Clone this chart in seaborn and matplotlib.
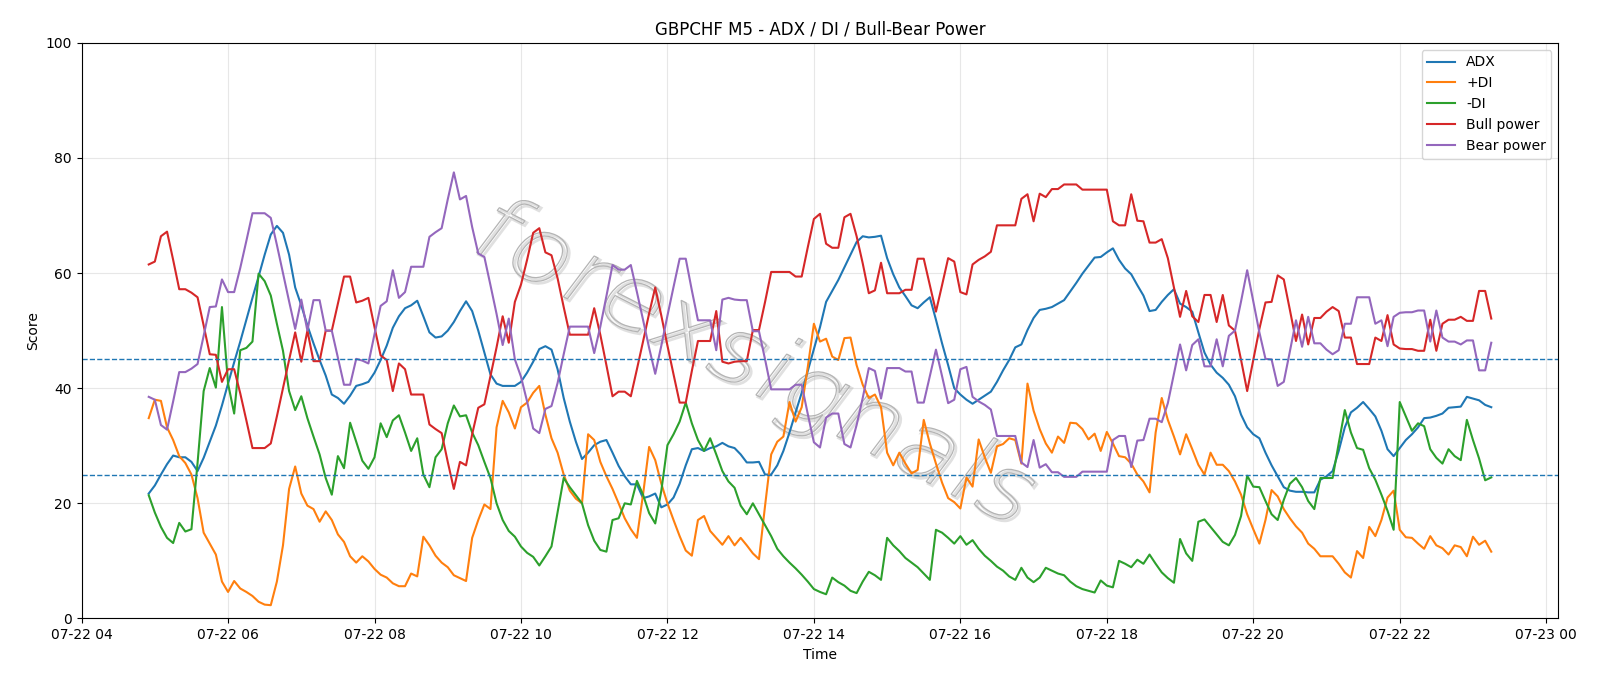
import matplotlib
matplotlib.use("Agg")
import matplotlib.pyplot as plt
import matplotlib.transforms as mtransforms
from matplotlib.textpath import TextPath
from matplotlib.patches import PathPatch
from matplotlib.font_manager import FontProperties
import pandas as pd
import seaborn as sns

# 5-minute bars, 07-22 04:55 -> 23:15
start, end = "2024-07-22 04:55", "2024-07-22 23:15"

adx = [21.7, 23.1, 25.0, 26.8, 28.3, 28.0, 28.0, 27.2, 25.6, 27.9, 30.7, 33.5, 37.0, 40.8, 44.5, 48.1, 51.9, 55.7, 59.4, 63.2,
       66.7, 68.2, 67.0, 63.2, 57.5, 54.4, 50.9, 47.8, 44.9, 42.2, 38.9, 38.3, 37.3, 38.7, 40.4, 40.7, 41.1, 42.7, 44.9, 47.4,
       50.5, 52.5, 53.9, 54.4, 55.2, 52.5, 49.7, 48.8, 49.0, 50.0, 51.5, 53.4, 55.1, 53.4, 50.0, 46.2, 42.4, 40.8, 40.4, 40.4,
       40.4, 41.1, 42.7, 44.6, 46.8, 47.3, 46.7, 43.3, 38.3, 34.2, 30.7, 27.7, 28.8, 30.1, 30.7, 31.0, 28.8, 26.5, 24.7, 23.3,
       23.3, 20.9, 21.2, 21.7, 19.3, 19.8, 21.0, 23.4, 26.6, 29.4, 29.6, 29.1, 29.6, 29.9, 30.5, 29.9, 29.6, 28.5, 27.1, 27.1,
       27.2, 25.0, 25.0, 26.6, 29.1, 32.3, 35.8, 39.2, 43.0, 46.8, 50.6, 55.0, 56.9, 58.8, 61.0, 63.2, 65.4, 66.4, 66.2, 66.3,
       66.5, 62.6, 59.8, 57.5, 56.0, 54.4, 53.9, 54.9, 55.8, 51.9, 47.8, 44.0, 40.0, 38.9, 38.0, 37.3, 38.0, 38.7, 39.4, 41.1,
       43.1, 44.9, 47.1, 47.6, 50.1, 52.2, 53.6, 53.8, 54.1, 54.7, 55.3, 56.8, 58.3, 59.9, 61.3, 62.7, 62.8, 63.6, 64.3, 62.3,
       60.8, 59.8, 57.9, 56.1, 53.4, 53.6, 55.0, 56.2, 57.2, 54.7, 54.1, 53.3, 49.7, 46.2, 44.1, 42.7, 41.8, 40.6, 38.6, 35.4,
       33.2, 32.0, 31.3, 28.8, 26.6, 24.7, 22.8, 22.2, 22.0, 22.0, 21.9, 21.9, 24.1, 24.7, 25.6, 29.1, 33.2, 35.8, 36.6, 37.6,
       36.4, 35.1, 32.6, 29.4, 28.2, 29.6, 31.0, 32.0, 33.2, 34.8, 34.9, 35.2, 35.6, 36.6, 36.7, 36.8, 38.5, 38.2, 37.9, 37.1,
       36.7]

plus_di = [34.8, 38.0, 37.8, 33.2, 31.0, 28.2, 27.0, 25.0, 20.9, 14.9, 13.0, 11.1, 6.4, 4.6, 6.5, 5.2, 4.6, 3.9, 2.9, 2.4,
           2.3, 6.4, 12.7, 22.5, 26.4, 21.7, 19.6, 19.0, 16.8, 18.6, 17.1, 14.6, 13.3, 10.8, 9.7, 10.8, 9.9, 8.6, 7.6, 7.1,
           6.1, 5.6, 5.6, 7.8, 7.3, 14.2, 12.7, 10.9, 9.7, 8.9, 7.5, 7.0, 6.5, 14.0, 17.1, 19.8, 19.0, 33.2, 37.8, 35.8,
           33.0, 36.7, 37.5, 39.2, 40.4, 35.4, 31.3, 28.8, 25.0, 22.2, 20.8, 20.0, 32.0, 31.0, 27.2, 24.7, 22.5, 20.0, 17.4, 15.5,
           14.0, 21.5, 29.8, 27.5, 23.4, 20.0, 17.1, 14.3, 11.8, 10.9, 17.1, 17.8, 15.2, 14.0, 12.8, 14.3, 12.7, 14.0, 12.7, 11.3,
           10.3, 19.6, 28.5, 30.7, 31.6, 37.6, 34.2, 36.7, 43.7, 51.2, 48.1, 48.6, 45.5, 44.9, 48.7, 48.8, 44.0, 40.6, 38.3, 38.9,
           36.7, 28.8, 26.6, 28.8, 26.9, 25.2, 25.8, 34.5, 30.4, 26.9, 23.6, 20.9, 20.2, 19.1, 24.5, 22.9, 31.1, 28.0, 25.3, 29.9,
           30.3, 31.3, 31.0, 26.9, 40.8, 36.1, 32.9, 30.4, 28.8, 31.6, 30.5, 34.0, 33.9, 32.9, 31.1, 32.1, 29.1, 32.4, 30.4, 28.2,
           28.0, 26.9, 25.0, 23.8, 21.9, 32.3, 38.3, 34.5, 31.6, 28.5, 32.0, 29.4, 26.7, 25.0, 28.8, 26.7, 26.7, 25.6, 23.8, 21.5,
           18.1, 15.5, 13.0, 17.1, 22.3, 21.2, 19.0, 17.4, 16.0, 14.9, 13.0, 12.1, 10.8, 10.8, 10.8, 9.5, 8.0, 7.1, 11.7, 10.5,
           15.9, 14.3, 17.1, 21.0, 22.2, 15.4, 14.1, 14.0, 13.0, 12.1, 14.3, 12.7, 12.2, 11.1, 12.7, 12.4, 10.8, 14.2, 12.8, 13.5,
           11.6]

minus_di = [21.4, 18.4, 15.9, 14.0, 13.1, 16.6, 15.1, 15.5, 27.0, 39.5, 43.5, 40.1, 54.1, 40.8, 35.6, 46.6, 47.0, 48.1, 59.9, 58.6,
            56.1, 51.2, 46.5, 39.5, 36.2, 38.6, 34.8, 31.6, 28.5, 24.4, 21.5, 28.2, 26.1, 34.0, 30.7, 27.4, 26.0, 28.0, 33.9, 31.5,
            34.4, 35.3, 32.3, 29.1, 31.3, 25.0, 22.8, 28.0, 29.4, 33.9, 37.0, 35.1, 35.3, 32.3, 30.1, 27.2, 24.4, 20.0, 17.1, 15.2,
            14.2, 12.5, 11.4, 10.7, 9.2, 10.8, 12.5, 18.4, 24.4, 22.8, 21.4, 20.0, 16.2, 13.5, 11.9, 11.6, 17.1, 17.4, 20.0, 19.8,
            23.9, 21.5, 18.3, 16.5, 22.2, 30.1, 32.0, 34.2, 37.5, 33.9, 31.0, 29.1, 31.3, 28.5, 25.6, 23.8, 22.7, 19.6, 18.1, 20.0,
            18.1, 16.2, 14.3, 12.1, 10.8, 9.7, 8.7, 7.6, 6.4, 5.1, 4.6, 4.2, 7.1, 6.3, 5.7, 4.8, 4.4, 6.4, 8.1, 7.5,
            6.7, 14.0, 12.7, 11.7, 10.5, 9.7, 8.9, 7.8, 6.7, 15.4, 14.9, 14.0, 13.0, 14.3, 12.8, 13.6, 12.1, 10.9, 10.0, 9.0,
            8.3, 7.3, 6.7, 8.8, 7.1, 6.3, 7.1, 8.8, 8.3, 7.8, 7.5, 6.4, 5.6, 5.1, 4.8, 4.5, 6.6, 5.7, 5.4, 10.0,
            9.5, 8.9, 10.2, 9.5, 11.1, 9.5, 8.0, 7.0, 6.2, 13.8, 11.3, 10.0, 16.8, 17.2, 15.9, 14.6, 13.3, 12.7, 14.5, 17.8,
            24.8, 22.9, 22.8, 20.4, 18.1, 17.1, 20.6, 23.4, 24.4, 22.8, 20.4, 19.0, 24.4, 24.4, 24.4, 30.4, 36.2, 32.3, 29.6, 29.3,
            26.1, 24.1, 21.5, 18.7, 15.4, 37.6, 35.1, 32.6, 33.9, 33.4, 29.4, 27.9, 26.9, 29.4, 28.2, 27.5, 34.5, 31.0, 27.8, 24.0,
            24.5]

bull = [61.5, 62.0, 66.4, 67.2, 62.3, 57.2, 57.2, 56.6, 55.8, 50.9, 45.9, 45.8, 41.1, 43.3, 43.3, 39.1, 34.4, 29.6, 29.6, 29.6,
        30.4, 35.1, 40.0, 44.9, 49.7, 44.6, 50.0, 44.7, 44.7, 50.0, 50.0, 54.7, 59.4, 59.4, 54.9, 55.2, 55.7, 50.6, 45.7, 44.9,
        39.5, 44.3, 43.3, 38.9, 38.9, 38.9, 33.7, 32.9, 32.2, 27.2, 22.5, 27.2, 26.6, 32.0, 36.6, 37.2, 42.1, 47.1, 52.5, 47.9,
        55.0, 58.0, 62.3, 67.0, 67.8, 63.6, 63.1, 59.1, 54.1, 49.3, 49.3, 49.3, 49.3, 53.9, 49.3, 44.0, 38.6, 39.4, 39.4, 38.6,
        43.3, 48.1, 53.0, 57.5, 52.6, 47.4, 42.4, 37.5, 37.5, 43.0, 48.2, 48.2, 48.2, 53.4, 44.6, 44.3, 44.6, 44.7, 44.7, 50.1,
        50.1, 55.0, 60.2, 60.2, 60.2, 60.2, 59.4, 59.4, 64.5, 69.4, 70.3, 65.1, 64.4, 64.4, 69.7, 70.3, 66.4, 61.7, 56.5, 57.0,
        61.8, 56.5, 56.5, 56.5, 57.1, 57.1, 62.5, 62.5, 57.9, 53.3, 57.9, 62.6, 62.0, 56.7, 56.3, 61.5, 62.3, 62.9, 63.7, 68.3,
        68.3, 68.3, 68.3, 72.9, 73.7, 69.0, 73.8, 73.2, 74.6, 74.6, 75.4, 75.4, 75.4, 74.5, 74.5, 74.5, 74.5, 74.5, 69.0, 68.3,
        68.3, 73.7, 69.1, 69.0, 65.3, 65.3, 65.9, 62.6, 57.5, 52.4, 56.9, 52.5, 51.5, 56.2, 56.2, 51.5, 56.2, 50.9, 50.0, 44.9,
        39.5, 44.9, 50.3, 54.9, 55.0, 59.6, 58.9, 53.6, 48.2, 52.8, 47.6, 52.2, 52.2, 53.3, 54.1, 53.4, 48.8, 48.8, 44.2, 44.2,
        44.2, 48.8, 48.2, 52.7, 47.6, 46.9, 46.8, 46.8, 46.5, 46.5, 51.9, 46.5, 51.2, 51.9, 51.9, 52.4, 51.7, 51.7, 56.9, 56.9,
        52.1]

bear = [38.5, 38.0, 33.6, 32.8, 37.7, 42.8, 42.8, 43.4, 44.2, 49.1, 54.1, 54.2, 58.9, 56.7, 56.7, 60.9, 65.6, 70.4, 70.4, 70.4,
        69.6, 64.9, 60.0, 55.1, 50.3, 55.4, 50.0, 55.3, 55.3, 50.0, 50.0, 45.3, 40.6, 40.6, 45.1, 44.8, 44.3, 49.4, 54.3, 55.1,
        60.5, 55.7, 56.7, 61.1, 61.1, 61.1, 66.3, 67.1, 67.8, 72.8, 77.5, 72.8, 73.4, 68.0, 63.4, 62.8, 57.9, 52.9, 47.5, 52.1,
        45.0, 42.0, 37.7, 33.0, 32.2, 36.4, 36.9, 40.9, 45.9, 50.7, 50.7, 50.7, 50.7, 46.1, 50.7, 56.0, 61.4, 60.6, 60.6, 61.4,
        56.7, 51.9, 47.0, 42.5, 47.4, 52.6, 57.6, 62.5, 62.5, 57.0, 51.8, 51.8, 51.8, 46.6, 55.4, 55.7, 55.4, 55.3, 55.3, 49.9,
        49.9, 45.0, 39.8, 39.8, 39.8, 39.8, 40.6, 40.6, 35.5, 30.6, 29.7, 34.9, 35.6, 35.6, 30.3, 29.7, 33.6, 38.3, 43.5, 43.0,
        38.2, 43.5, 43.5, 43.5, 42.9, 42.9, 37.5, 37.5, 42.1, 46.7, 42.1, 37.4, 38.0, 43.3, 43.7, 38.5, 37.7, 37.1, 36.3, 31.7,
        31.7, 31.7, 31.7, 27.1, 26.3, 31.0, 26.2, 26.8, 25.4, 25.4, 24.6, 24.6, 24.6, 25.5, 25.5, 25.5, 25.5, 25.5, 31.0, 31.7,
        31.7, 26.3, 30.9, 31.0, 34.7, 34.7, 34.1, 37.4, 42.5, 47.6, 43.1, 47.5, 48.5, 43.8, 43.8, 48.5, 43.8, 49.1, 50.0, 55.1,
        60.5, 55.1, 49.7, 45.1, 45.0, 40.4, 41.1, 46.4, 51.8, 47.2, 52.4, 47.8, 47.8, 46.7, 45.9, 46.6, 51.2, 51.2, 55.8, 55.8,
        55.8, 51.2, 51.8, 47.3, 52.4, 53.1, 53.2, 53.2, 53.5, 53.5, 48.1, 53.5, 48.8, 48.1, 48.1, 47.6, 48.3, 48.3, 43.1, 43.1,
        47.9]

times = pd.date_range(start, end, freq="5min")
df = pd.DataFrame({"Time": times, "ADX": adx, "+DI": plus_di, "-DI": minus_di,
                   "Bull power": bull, "Bear power": bear})

fig = plt.figure(figsize=(16, 6.86), dpi=100)
ax = fig.add_axes([0.051, 0.0985, 0.923, 0.839])

palette = ["tab:blue", "tab:orange", "tab:green", "tab:red", "tab:purple"]
for col, c in zip(["ADX", "+DI", "-DI", "Bull power", "Bear power"], palette):
    sns.lineplot(data=df, x="Time", y=col, ax=ax, color=c, label=col, linewidth=1.5)

# ADX thresholds
ax.axhline(45, linestyle="--", color="tab:blue", linewidth=1)
ax.axhline(25, linestyle="--", color="tab:blue", linewidth=1)

ax.set_ylim(0, 100)
ax.grid(True, alpha=0.3)
ax.set_title("GBPCHF M5 - ADX / DI / Bull-Bear Power")
ax.set_xlabel("Time")
ax.set_ylabel("Score")
ax.legend(loc="upper right")

# watermark: thin outlined text, drawn in pixel coords
tp = TextPath((0, 0), "forexsignals", size=92, prop=FontProperties(family="DejaVu Sans", weight="light"))
bb = tp.get_extents()
cx, cy = ax.transAxes.transform((0.455, 0.44))
wm_tr = (mtransforms.Affine2D().translate(-(bb.x0 + bb.width / 2), -(bb.y0 + bb.height / 2))
         .scale(1.12, 1.0).skew_deg(10, 0).rotate_deg(-27).translate(cx, cy))
shadow = PathPatch(tp, facecolor="none", edgecolor="#e0e0e0", linewidth=2.0,
                   transform=wm_tr + mtransforms.Affine2D().translate(2, -2))
outline = PathPatch(tp, facecolor="none", edgecolor="#b4b4b4", linewidth=0.9, transform=wm_tr)
ax.add_artist(shadow)
ax.add_artist(outline)

fig.savefig("out.png")
